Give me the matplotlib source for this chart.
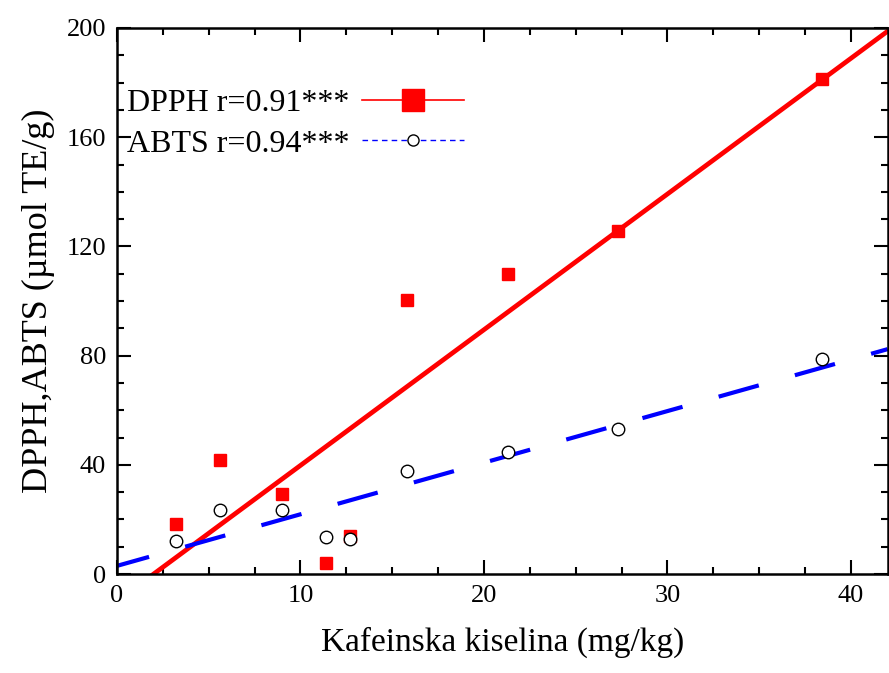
import numpy as np
import matplotlib.pyplot as plt
from matplotlib.lines import Line2D
from matplotlib.ticker import MultipleLocator

# caffeic acid content (mg/kg)
kafeinska = [3.2, 5.6, 9.0, 11.4, 12.7, 15.8, 21.3, 27.3, 38.4]
dpph = [18.3, 41.8, 29.3, 4.0, 13.9, 100.4, 110.0, 125.6, 181.3]
abts = [12.1, 23.4, 23.4, 13.5, 12.8, 37.7, 44.7, 53.1, 78.8]

# regression lines (slope, intercept)
dpph_fit = (4.97, -9.9)
abts_fit = (1.89, 3.0)

plt.rcParams['font.family'] = ['Liberation Serif', 'DejaVu Serif']

fig = plt.figure(figsize=(8.89, 6.73), dpi=100)
ax = fig.add_axes([0.1316, 0.147, 0.8669, 0.8114])

xl = np.array([0, 42])
ax.plot(xl, dpph_fit[0] * xl + dpph_fit[1], color='#ff0000', lw=3.4, zorder=2)
ax.plot(xl, abts_fit[0] * xl + abts_fit[1], color='#0000ff', lw=3.0,
        linestyle=(2, (10, 9)), zorder=2)

ax.plot(kafeinska, dpph, 's', color='#ff0000', ms=8, mec='#ff0000', zorder=3)
ax.plot(kafeinska, abts, 'o', mfc='white', mec='black', mew=1.0, ms=9, zorder=4)

ax.set_xlim(0, 42)
ax.set_ylim(0, 200)
ax.xaxis.set_major_locator(MultipleLocator(10))
ax.xaxis.set_minor_locator(MultipleLocator(2.5))
ax.yaxis.set_major_locator(MultipleLocator(40))
ax.yaxis.set_minor_locator(MultipleLocator(10))
ax.tick_params(which='both', direction='in', top=True, right=True, width=1.5,
               labelsize=19, pad=8)
ax.tick_params(which='major', length=10)
ax.tick_params(which='minor', length=5)
for s in ax.spines.values():
    s.set_linewidth(1.8)

ax.set_xlabel('Kafeinska kiselina (mg/kg)', fontsize=24, labelpad=14)
ax.set_ylabel('DPPH,ABTS (µmol TE/g)', fontsize=26, labelpad=8)

handles = [
    Line2D([], [], color='#ff0000', lw=1.2, marker='s', ms=16),
    Line2D([], [], color='#0000ff', lw=1.0, linestyle=(0, (4, 3)),
           marker='o', ms=8, mfc='white', mec='black', mew=1.0),
]
ax.legend(handles, ['DPPH r=0.91***', 'ABTS r=0.94***'], loc='upper left',
          bbox_to_anchor=(0.0, 0.907), frameon=False, markerfirst=False,
          fontsize=23, handlelength=3.2, handletextpad=0.4, labelspacing=0.36,
          borderaxespad=0.1, borderpad=0.2)

fig.savefig('out.png', dpi=100)
